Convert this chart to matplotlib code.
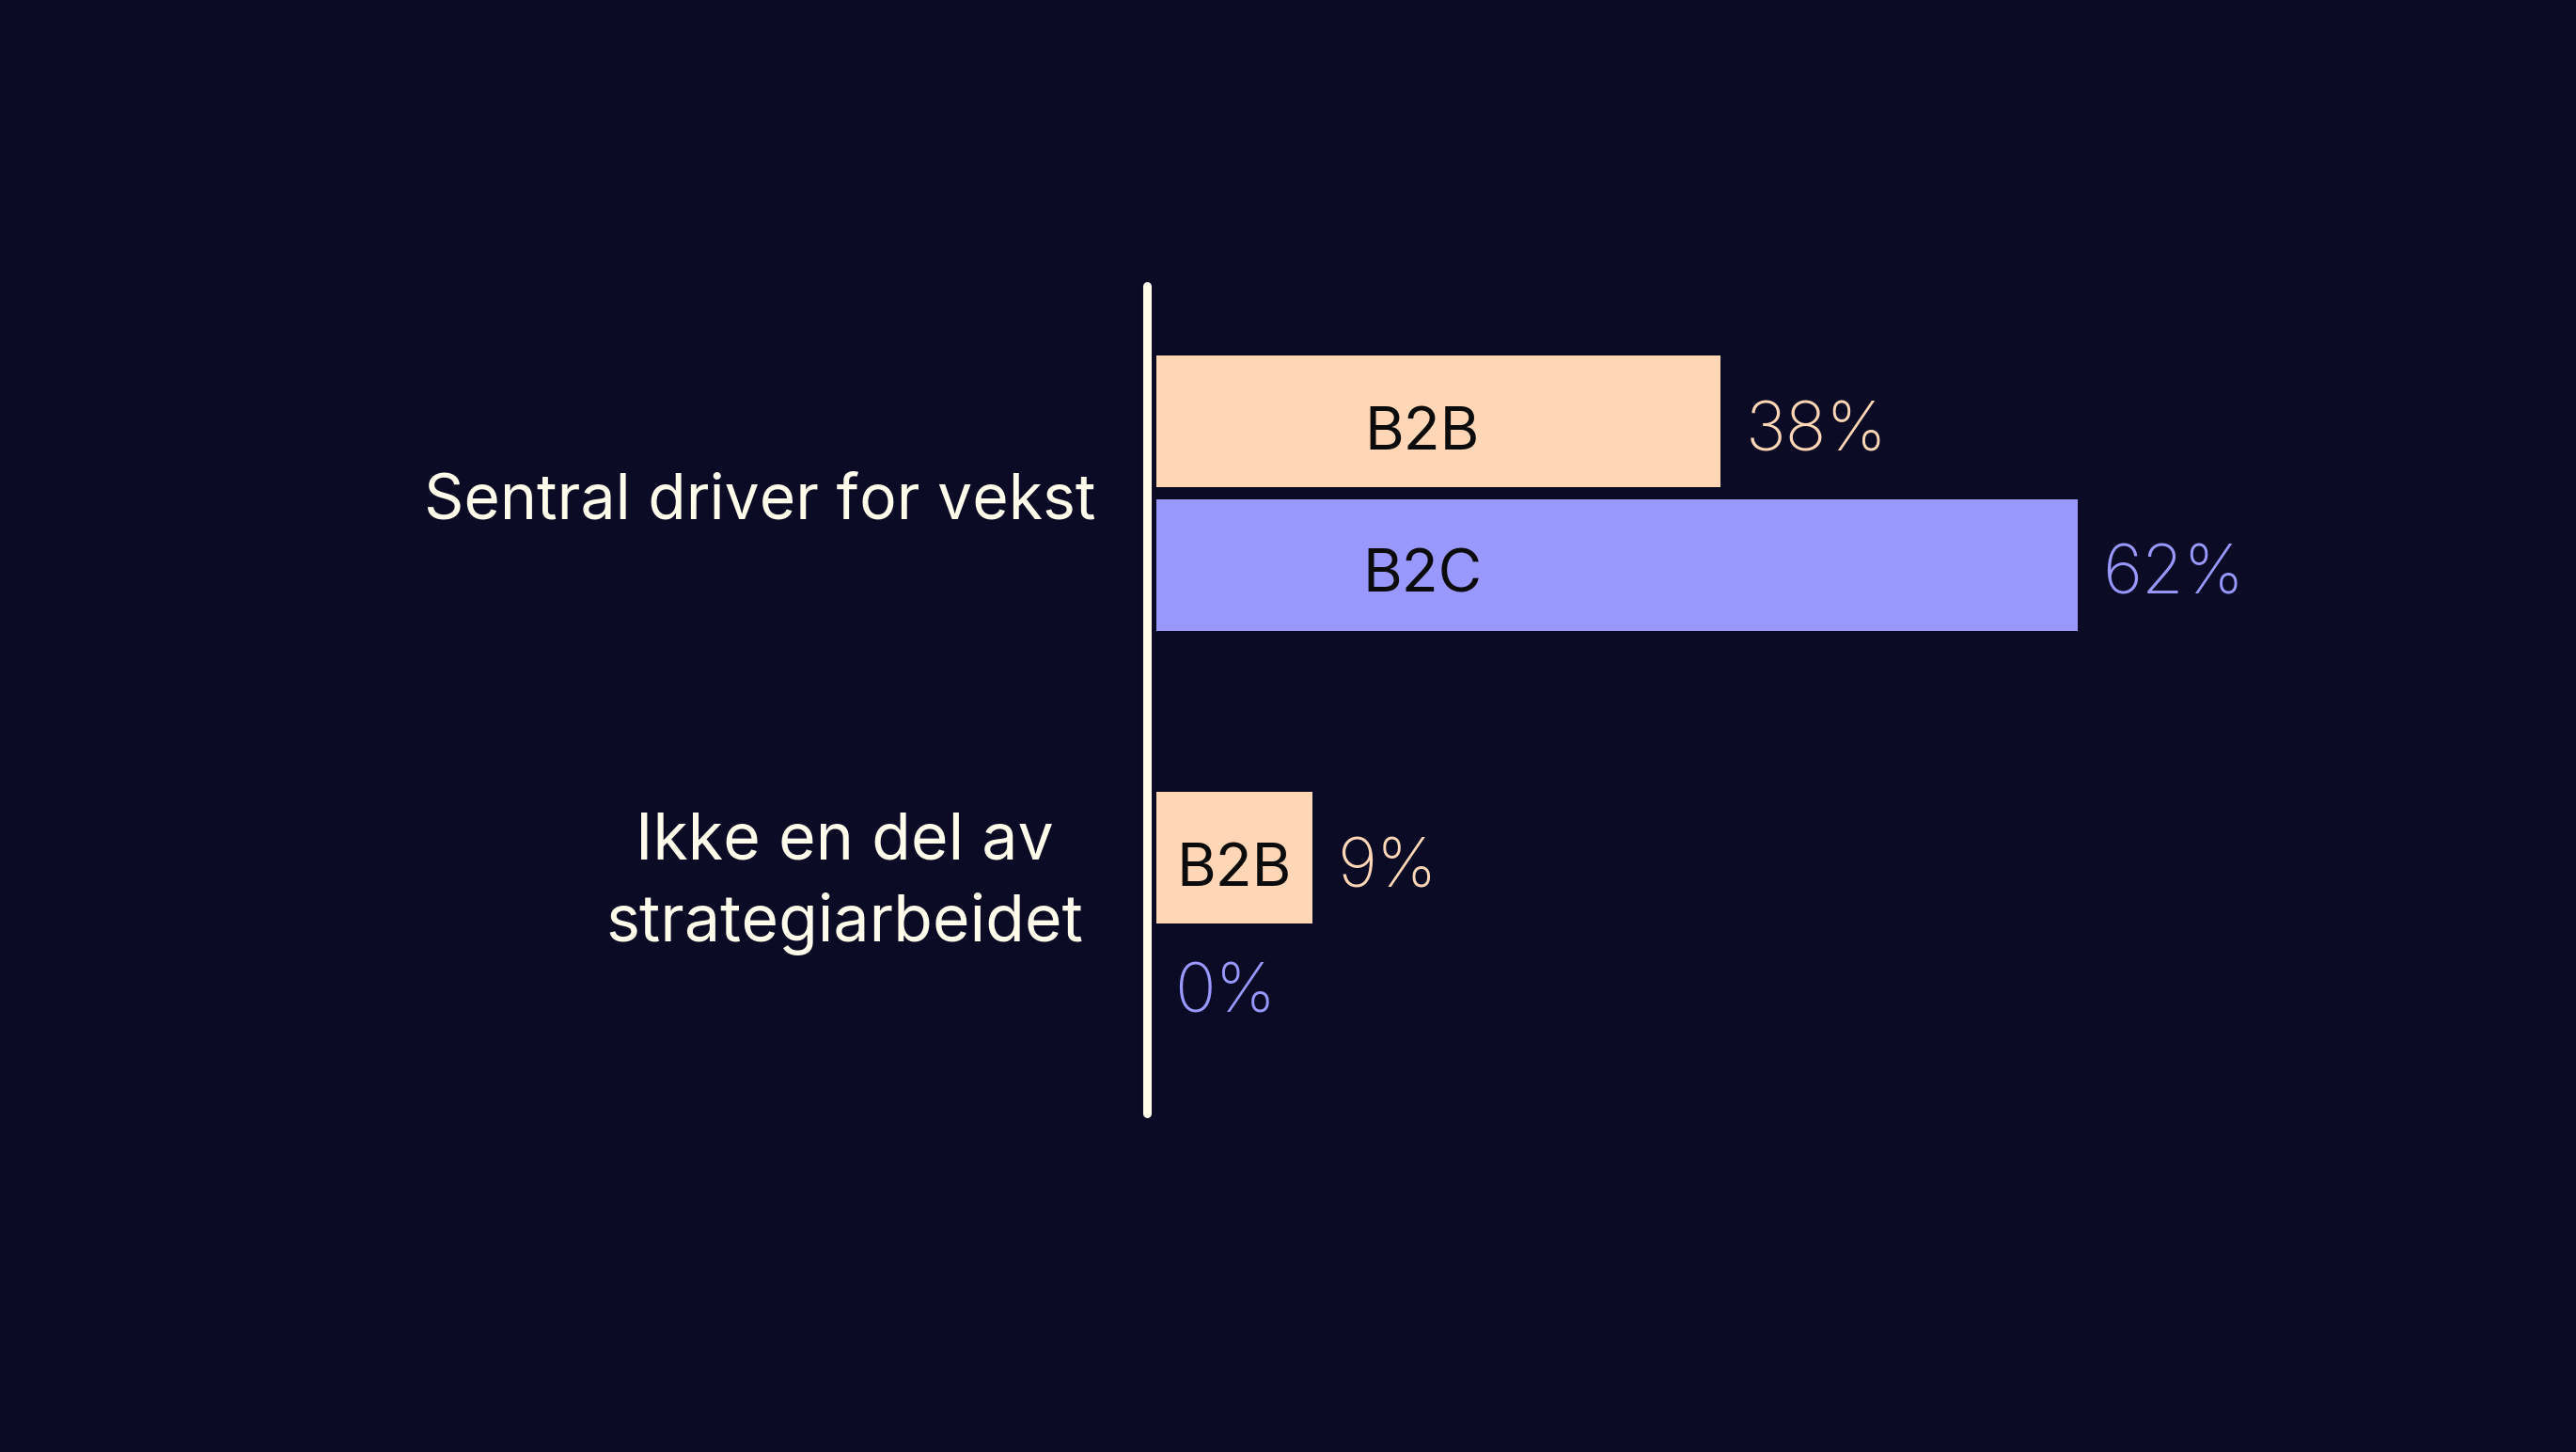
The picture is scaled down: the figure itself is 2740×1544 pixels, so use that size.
import matplotlib
matplotlib.use("Agg")
import matplotlib.pyplot as plt

# data
categories = ["Sentral driver for vekst", "Ikke en del av\nstrategiarbeidet"]
series = ["B2B", "B2C"]
b2b = [38, 9]
b2c = [62, 0]

bg = "#0b0b25"
cream = "#fffcec"
colors = {"B2B": "#ffd7b6", "B2C": "#9898ff"}

plt.rcParams['font.family'] = ['Inter', 'DejaVu Sans']

W, H = 2740, 1544
fig = plt.figure(figsize=(W / 100, H / 100), dpi=100, facecolor=bg)
ax = fig.add_axes([0, 0, 1, 1])
ax.set_facecolor(bg)

# map data units onto the picture: 1% = 15.8 px, bar start at px 1230
px_per_pct = 15.8
x0 = 1230
unit = 464.0   # px between the two groups
y0 = 524.5     # px of first group centre
ax.set_xlim(-x0 / px_per_pct, (W - x0) / px_per_pct)
ax.set_ylim((H - y0) / unit, -y0 / unit)
ax.axis("off")

def base_off(fs, extra=5):
    # y shift (data units) putting the cap-height centre on the bar centre
    cap = 0.727 * fs * 100 / 72
    return (cap / 2 + extra) / unit

bar_h = 0.302
off = 0.164
min_w = 10.5   # bars are never narrower than their label
gap = 1.65
fs_in, fs_val, fs_cat = 46, 52, 47.5

for i, cat in enumerate(categories):
    for s, vals, dy in (("B2B", b2b, -off), ("B2C", b2c, off)):
        v = vals[i]
        y = i + dy
        w = max(v, min_w) if v > 0 else 0
        if w > 0:
            ax.barh(y, w, height=bar_h, left=0, color=colors[s])
            lx = 17.9 if w > 25 else w / 2
            ax.text(lx, y + base_off(fs_in, 6), s, ha="center", va="baseline",
                    fontsize=fs_in, color="#0b0b0b")
            ax.text(w + gap, y + base_off(fs_val, 5), f"{v}%", ha="left",
                    va="baseline", fontsize=fs_val, color=colors[s],
                    fontweight="light")
        else:
            # empty bar: label sits a little higher, close to the axis
            ax.text(1.2, y + base_off(fs_val, -14), f"{v}%", ha="left",
                    va="baseline", fontsize=fs_val, color=colors[s],
                    fontweight="light")

# category labels
ax.text(-4.1, base_off(fs_cat, 3), categories[0], ha="right", va="baseline",
        fontsize=fs_cat, color=cream)
ax.text(-4.9, 0.895, categories[1], ha="right", va="center", fontsize=49,
        color=cream, multialignment="center", linespacing=1.4)

# vertical axis line
ax.plot([-0.633, -0.633], [(303.5 - y0) / unit, (1184 - y0) / unit],
        color=cream, lw=6.5, solid_capstyle="round", clip_on=False)

fig.savefig("out.png", dpi=100, facecolor=bg)
